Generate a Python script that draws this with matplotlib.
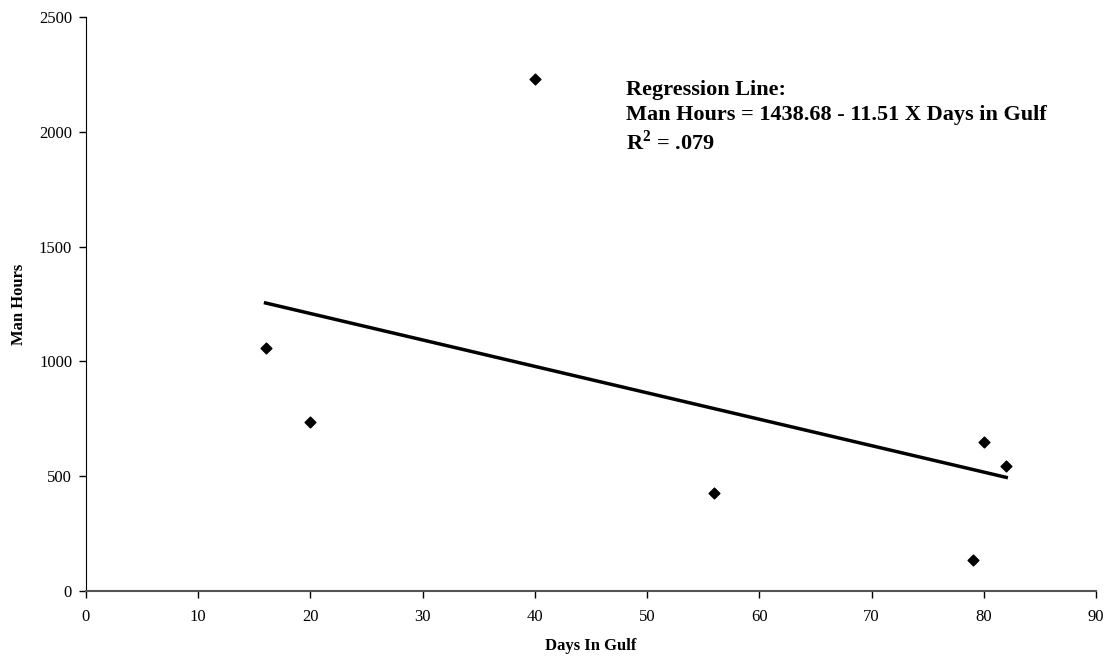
import matplotlib
matplotlib.use("Agg")
import matplotlib.pyplot as plt
import numpy as np

days_in_gulf = [16, 20, 40, 56, 79, 80, 82]
man_hours = [1060, 738, 2230, 428, 135, 650, 543]
intercept = 1438.68
slope = -11.51
x_ticks = [0, 10, 20, 30, 40, 50, 60, 70, 80, 90]
y_ticks = [0, 500, 1000, 1500, 2000, 2500]

plt.rcParams['font.family'] = ['Liberation Serif', 'DejaVu Serif']
plt.rcParams['mathtext.fontset'] = 'custom'
plt.rcParams['mathtext.rm'] = 'Liberation Serif'
plt.rcParams['mathtext.bf'] = 'Liberation Serif:bold'

fig = plt.figure(figsize=(11.19, 6.58), dpi=100)
ax = fig.add_axes([86 / 1119, 1 - 591 / 658, (1096 - 86) / 1119, (591 - 17) / 658])

ax.scatter(days_in_gulf, man_hours, marker='D', s=30, color='black', zorder=3)

fit_x = np.array([min(days_in_gulf), max(days_in_gulf)])
ax.plot(fit_x, intercept + slope * fit_x, color='black', linewidth=2.5, zorder=2)

ax.set_xlim(0, 90)
ax.set_ylim(0, 2500)
ax.set_xticks(x_ticks)
ax.set_yticks(y_ticks)
ax.tick_params(axis='both', labelsize=12, direction='out', length=5, width=1)
ax.tick_params(axis='x', pad=8)
ax.tick_params(axis='y', pad=5)

for side in ('top', 'right'):
    ax.spines[side].set_visible(False)
ax.spines['left'].set_color('black')
ax.spines['bottom'].set_color('#555555')
ax.spines['bottom'].set_linewidth(1.5)

ax.set_xlabel('Days In Gulf', fontsize=12, fontweight='bold', labelpad=9)
ax.set_ylabel('Man Hours', fontsize=12, fontweight='bold')
ax.yaxis.set_label_coords(-0.058, 0.5)

ax.text(0.535, 0.89,
        'Regression Line:\nMan Hours = 1438.68 - 11.51 X Days in Gulf\n'
        r'$\mathbf{R}^{\mathbf{2}}$ = .079',
        transform=ax.transAxes, fontsize=16, fontweight='bold',
        va='top', ha='left', linespacing=1.3)

fig.savefig('out.png', dpi=100)
